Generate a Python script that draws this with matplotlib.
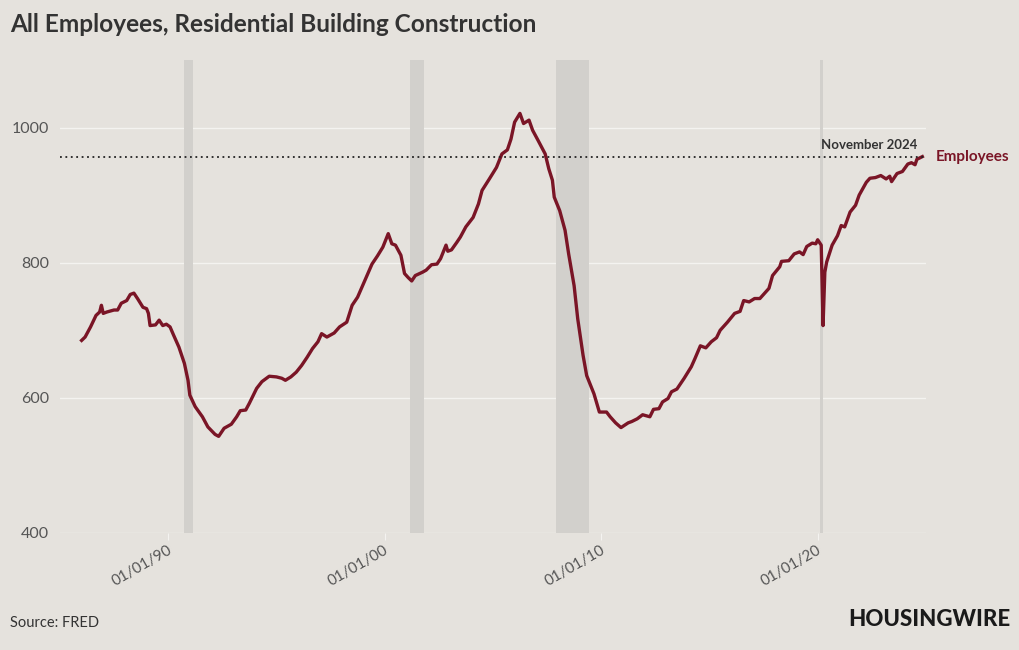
import matplotlib
matplotlib.use("Agg")
import matplotlib.pyplot as plt
import matplotlib.dates as mdates
import matplotlib.transforms as mtransforms
import pandas as pd

months = ["1986-01","1986-03","1986-06","1986-09","1986-11","1986-12","1987-01","1987-03","1987-07","1987-09","1987-11",
"1988-02","1988-04","1988-06","1988-08","1988-11","1989-01","1989-02","1989-03","1989-06","1989-08","1989-10","1989-12",
"1990-02","1990-04","1990-07","1990-10","1990-12","1991-01","1991-04","1991-08","1991-11","1992-03","1992-05","1992-08",
"1992-12","1993-03","1993-05","1993-08","1993-10","1994-02","1994-05","1994-09","1995-01","1995-04","1995-06","1995-09",
"1995-12","1996-03","1996-06","1996-09","1996-12","1997-02","1997-05","1997-09","1997-12","1998-04","1998-07","1998-10",
"1999-02","1999-06","1999-09","1999-12","2000-03","2000-05","2000-07","2000-10","2000-12","2001-02","2001-04","2001-06",
"2001-10","2001-12","2002-03","2002-06","2002-08","2002-11","2002-12","2003-02","2003-05","2003-07","2003-10","2004-02",
"2004-05","2004-07","2004-11","2005-03","2005-06","2005-09","2005-11","2006-01","2006-04","2006-06","2006-09","2006-11",
"2007-02","2007-05","2007-06","2007-08","2007-10","2007-11","2008-02","2008-05","2008-07","2008-10","2008-12","2009-03",
"2009-05","2009-09","2009-12","2010-04","2010-06","2010-09","2010-12","2011-04","2011-06","2011-09","2011-12","2012-04",
"2012-06","2012-09","2012-11","2013-02","2013-04","2013-07","2013-11","2014-03","2014-05","2014-08","2014-11","2015-02",
"2015-05","2015-07","2015-11","2016-03","2016-06","2016-08","2016-11","2017-02","2017-05","2017-07","2017-10","2017-12",
"2018-04","2018-05","2018-09","2018-12","2019-03","2019-05","2019-07","2019-10","2019-12","2020-01","2020-02","2020-03",
"2020-04","2020-05","2020-06","2020-09","2020-12","2021-02","2021-04","2021-07","2021-10","2021-12","2022-04","2022-06",
"2022-09","2022-12","2023-03","2023-05","2023-06","2023-09","2023-12","2024-03","2024-05","2024-07","2024-08","2024-11"]

employees = [685,690,705,722,727,737,725,727,730,730,740,
744,753,755,747,734,732,725,707,708,715,707,709,
705,693,675,651,626,604,587,572,557,546,543,555,
561,572,581,582,592,614,624,632,631,629,626,631,
638,648,660,673,683,695,690,696,705,712,737,749,
774,798,810,823,843,828,826,811,784,778,773,781,
786,789,797,798,806,826,817,819,830,838,853,867,
887,907,924,941,961,967,983,1008,1021,1006,1011,996,
981,966,961,939,922,897,877,848,813,766,717,663,
633,606,579,579,572,563,556,563,565,569,575,572,
583,584,594,599,609,613,629,646,658,677,674,683,
689,700,712,725,728,744,742,747,747,753,762,781,
794,802,803,813,816,812,824,829,828,834,830,826,
707,786,801,826,840,855,853,875,885,900,919,925,
926,929,924,928,920,932,935,946,948,945,953,957]

recession_start = ["1990-10-01", "2001-03-01", "2007-12-01", "2020-02-01"]
recession_end = ["1991-03-01", "2001-11-01", "2009-06-01", "2020-04-01"]

x_ticks = ["1990-01-01", "2000-01-01", "2010-01-01", "2020-01-01"]
y_ticks = [400, 600, 800, 1000]

title = "All Employees, Residential Building Construction"
series_name = "Employees"
latest_label = "November 2024"
source = "Source: FRED"
brand = "HOUSINGWIRE"

BG = "#e5e2dd"
RED = "#7a1526"
TXT = "#333333"
plt.rcParams['font.family'] = ['Lato', 'DejaVu Sans']

dates = pd.to_datetime(months)
fig = plt.figure(figsize=(10.2, 6.5), dpi=100, facecolor=BG)
ax = fig.add_axes([0.0588, 0.18, 0.849, 0.7277], facecolor=BG)

for s, e in zip(recession_start, recession_end):
    ax.axvspan(pd.Timestamp(s), pd.Timestamp(e), color="#d2d0cc", lw=0, zorder=1)

for y in y_ticks:
    ax.axhline(y, color="#f4f3f0", lw=1.0, zorder=0.5)

ax.plot(dates, employees, color=RED, lw=2.4, zorder=3, solid_joinstyle='round')
ax.axhline(employees[-1], color="#222222", lw=1.3, ls=(0, (1, 2)), zorder=4)

ax.set_xlim(pd.Timestamp("1985-01-01"), pd.Timestamp("2025-01-01"))
ax.set_ylim(400, 1100)
ax.set_yticks(y_ticks)
ax.set_xticks(pd.to_datetime(x_ticks))
ax.xaxis.set_major_formatter(mdates.DateFormatter("%m/%d/%y"))
ax.tick_params(axis='y', length=0, labelsize=11.5, labelcolor="#555555", pad=8)
ax.tick_params(axis='x', length=5, color="#f4f3f0", labelsize=11, labelcolor="#555555", pad=2)
offset = mtransforms.ScaledTranslation(6/100, 0, fig.dpi_scale_trans)
for lab in ax.get_xticklabels():
    lab.set_rotation(30)
    lab.set_ha('right')
    lab.set_transform(lab.get_transform() + offset)
for sp in ax.spines.values():
    sp.set_visible(False)

ax.annotate(latest_label, xy=(1.0, employees[-1]), xycoords=('axes fraction', 'data'),
            xytext=(-6, 4), textcoords='offset points', ha='right', va='bottom',
            fontsize=9.5, fontweight='bold', color=TXT)
ax.annotate(series_name, xy=(1.0, employees[-1]), xycoords=('axes fraction', 'data'),
            xytext=(7, 0), textcoords='offset points', ha='left', va='center',
            fontsize=11, fontweight='bold', color=RED)

fig.text(10/1020, 1 - 24/650, title, ha='left', va='center', fontsize=17.6,
         fontweight='bold', color=TXT)
fig.text(10/1020, 1 - 623/650, source, ha='left', va='center', fontsize=10.5, color=TXT)
fig.text(1010/1020, 1 - 620/650, brand, ha='right', va='center', fontsize=16,
         fontweight='black', color="#1a1a1a")

fig.savefig("out.png", dpi=100, facecolor=BG)
